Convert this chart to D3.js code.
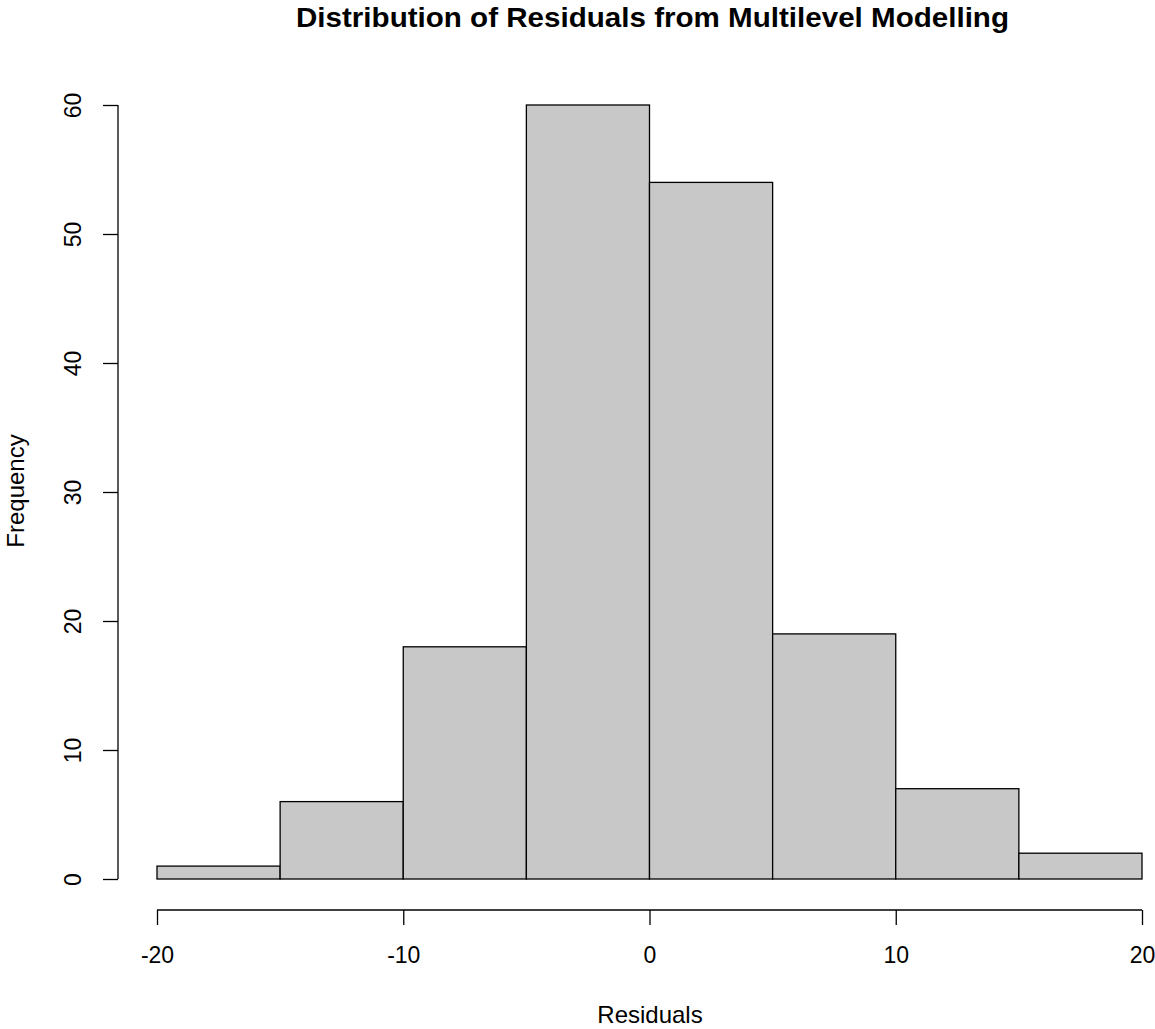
<!DOCTYPE html>
<html><head><meta charset="utf-8">
<script src="https://cdn.jsdelivr.net/npm/d3@7"></script>
<style>body{margin:0;background:#fff}svg{display:block}text{font-family:"Liberation Sans",Arial,sans-serif}</style>
</head><body>
<script>
const binStarts = [-20,-15,-10,-5,0,5,10,15];
const binWidth = 5;
const counts = [1,6,18,60,54,19,7,2];
const xTicks = [-20,-10,0,10,20];
const yTicks = [0,10,20,30,40,50,60];
const title = "Distribution of Residuals from Multilevel Modelling";
const xLabel = "Residuals";
const yLabel = "Frequency";

const W = 1155, H = 1029;
const svg = d3.select("body").append("svg").attr("width", W).attr("height", H);
const x = d3.scaleLinear().domain([-20,20]).range([157,1142]);
const y = d3.scaleLinear().domain([0,60]).range([879,105]);
const fmt = d => String(d);

svg.append("g").selectAll("rect").data(counts).join("rect")
  .attr("x", (d,i)=>x(binStarts[i]))
  .attr("width", (d,i)=>x(binStarts[i]+binWidth)-x(binStarts[i]))
  .attr("y", d=>y(d))
  .attr("height", d=>y(0)-y(d))
  .attr("fill", "#c8c8c8").attr("stroke", "#000").attr("stroke-width", 1.3);

const gx = svg.append("g").attr("transform","translate(0,910)")
  .call(d3.axisBottom(x).tickValues(xTicks).tickFormat(fmt).tickSize(15).tickPadding(22).tickSizeOuter(0));
gx.attr("font-size",null);
gx.select(".domain").attr("d", `M${x(-20)},0H${x(20)}`).attr("stroke-width",1.3);
gx.selectAll(".tick line").attr("stroke-width",1.3);
gx.selectAll("text").style("font-size","23px").attr("font-family","Liberation Sans, Arial, sans-serif").attr("fill","#000");

const gy = svg.append("g").attr("transform","translate(118,0)")
  .call(d3.axisLeft(y).tickValues(yTicks).tickFormat(fmt).tickSize(15).tickSizeOuter(0));
gy.attr("font-size",null);
gy.select(".domain").attr("d", `M0,${y(0)}V${y(60)}`).attr("stroke-width",1.3);
gy.selectAll(".tick line").attr("stroke-width",1.3);
gy.selectAll("text").style("font-size","23px").attr("font-family","Liberation Sans, Arial, sans-serif").attr("fill","#000")
  .attr("x",null).attr("dy",null).attr("text-anchor","middle")
  .attr("transform","translate(-37,0) rotate(-90)").attr("y",0);

svg.append("text").attr("x",652.5).attr("y",27).attr("text-anchor","middle")
  .style("font-size","28px").attr("font-weight","bold")
  .attr("textLength",713).attr("lengthAdjust","spacingAndGlyphs").text(title);
svg.append("text").attr("x",650).attr("y",1023).attr("text-anchor","middle")
  .style("font-size","24px").text(xLabel);
svg.append("text").attr("transform","translate(24,491) rotate(-90)").attr("text-anchor","middle")
  .style("font-size","24px").text(yLabel);
</script>
</body></html>
